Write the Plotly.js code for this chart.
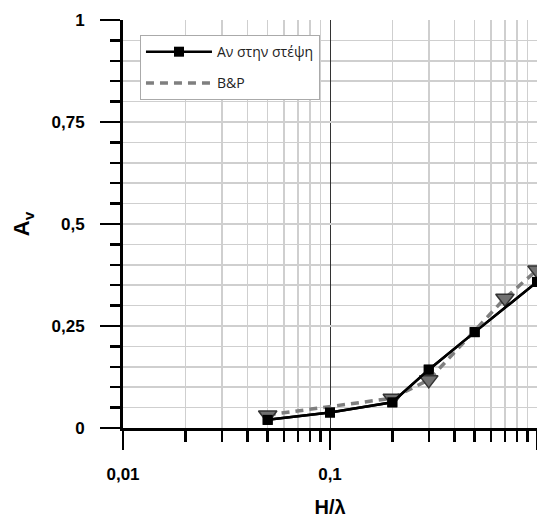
<!DOCTYPE html>
<html>
<head>
<meta charset="utf-8">
<script src="https://cdn.plot.ly/plotly-3.0.1.min.js"></script>
<style>html,body{margin:0;padding:0;background:#fff;}#chart{width:537px;height:518px;}</style>
</head>
<body>
<div id="chart"></div>
<script>
// Series 1: "Αν στην στέψη"
const crestX = [0.05, 0.1, 0.2, 0.3, 0.5, 1];
const crestY = [0.02, 0.038, 0.063, 0.143, 0.235, 0.358];
// Series 2: "B&P"
const bpX = [0.05, 0.2, 0.3, 0.7, 1];
const bpY = [0.032, 0.073, 0.118, 0.318, 0.387];

const xTickVals = [0.01, 0.1, 1];
const xTickText = ['0,01', '0,1', '1'];
const xMinorVals = [0.02,0.03,0.04,0.05,0.06,0.07,0.08,0.09,0.2,0.3,0.4,0.5,0.6,0.7,0.8,0.9];
const yTickVals = [0, 0.25, 0.5, 0.75, 1];
const yTickText = ['0', '0,25', '0,5', '0,75', '1'];

const FONT = 'Liberation Sans, Arial, sans-serif';

const traces = [
  {x: crestX, y: crestY, mode: 'lines+markers', name: 'Αν στην στέψη', legendgroup: 'a',
   line: {color: '#000', width: 2.5},
   marker: {symbol: 'square', size: 10, color: '#000'}, cliponaxis: false},
  {x: bpX, y: bpY, mode: 'lines', name: 'B&P', legendgroup: 'b',
   line: {color: '#7f7f7f', width: 3.5, dash: '8px,6px'}, cliponaxis: false},
  {x: bpX, y: bpY, mode: 'markers', showlegend: false, legendgroup: 'b',
   marker: {symbol: 'triangle-down', size: 16, color: '#707070', line: {color: '#333', width: 1.5}}, cliponaxis: false},
  {x: crestX, y: crestY, mode: 'lines+markers', showlegend: false, legendgroup: 'a',
   line: {color: '#000', width: 2.5},
   marker: {symbol: 'square', size: 10, color: '#000'}, cliponaxis: false}
];

const layout = {
  width: 537, height: 518,
  margin: {l: 123, r: 0, t: 20, b: 90, pad: 0},
  paper_bgcolor: '#fff', plot_bgcolor: '#fff',
  showlegend: true,
  font: {family: FONT, color: '#000'},
  xaxis: {
    type: 'log', range: [-2, 0],
    tickvals: xTickVals, ticktext: xTickText,
    ticks: 'outside', ticklen: 19, tickwidth: 2.5, tickcolor: '#000',
    showline: true, linecolor: '#000', linewidth: 3,
    showgrid: true, gridcolor: '#333', gridwidth: 1,
    zeroline: false,
    tickfont: {size: 17, family: FONT, weight: 'bold', color: '#000'},
    ticklabelstandoff: 10,
    minor: {tickvals: xMinorVals, ticks: 'outside', ticklen: 11, tickwidth: 2.5, tickcolor: '#000',
            showgrid: true, gridcolor: '#cfcfcf', gridwidth: 1.5},
    title: {text: 'H/λ', font: {size: 20, family: FONT, weight: 'bold', color: '#000'}, standoff: 17}
  },
  yaxis: {
    range: [0, 1],
    tickvals: yTickVals, ticktext: yTickText,
    ticks: 'outside', ticklen: 20, tickwidth: 2.5, tickcolor: '#000',
    showline: true, linecolor: '#000', linewidth: 3,
    showgrid: true, gridcolor: '#cfcfcf', gridwidth: 1.5,
    zeroline: false,
    tickfont: {size: 17, family: FONT, weight: 'bold', color: '#000'},
    ticklabelstandoff: 12,
    minor: {dtick: 0.05, ticks: 'outside', ticklen: 10, tickwidth: 2.5, tickcolor: '#000',
            showgrid: true, gridcolor: '#cfcfcf', gridwidth: 1.5},
    title: {text: 'A<sub>v</sub>', font: {size: 22, family: FONT, weight: 'bold', color: '#000'}, standoff: 16}
  },
  legend: {
    x: 0.041, y: 0.963, xanchor: 'left', yanchor: 'top',
    bgcolor: '#fff', bordercolor: '#aaa', borderwidth: 1,
    font: {size: 14, family: 'Open Sans, Noto Sans, sans-serif', color: '#222'},
    traceorder: 'grouped', tracegroupgap: 10, entrywidth: 176, itemwidth: 66
  }
};

Plotly.newPlot('chart', traces, layout, {displayModeBar: false, staticPlot: true});
</script>
</body>
</html>
